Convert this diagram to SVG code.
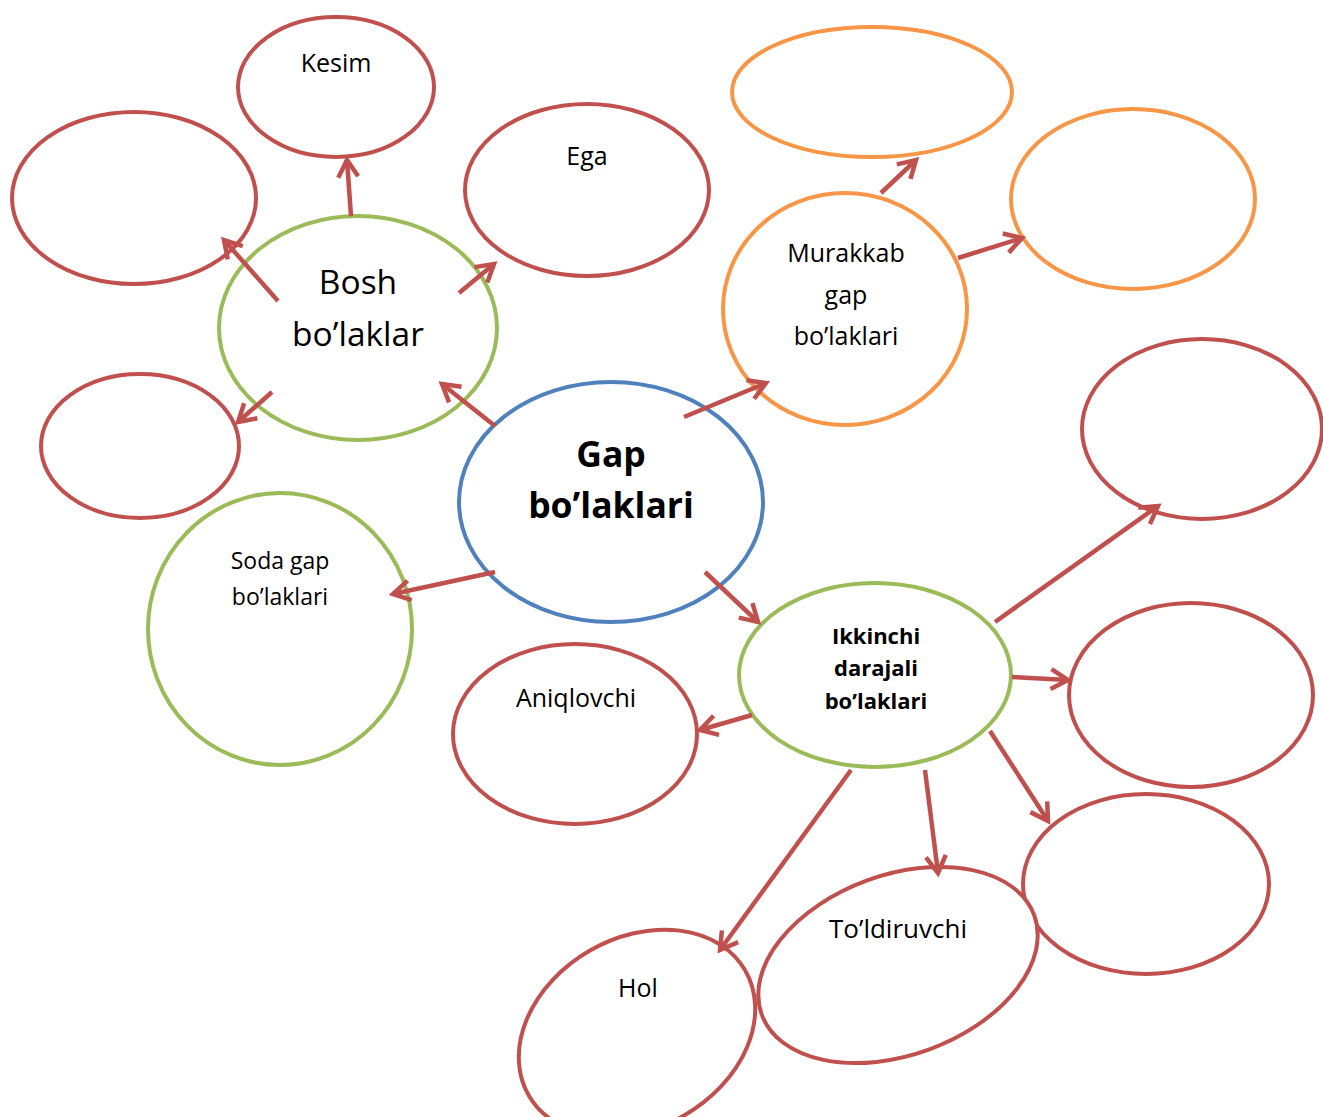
<svg xmlns="http://www.w3.org/2000/svg" width="1323" height="1117" viewBox="0 0 1323 1117">
<defs>
<marker id="ah" markerUnits="userSpaceOnUse" viewBox="-22 -14 26 28" refX="0" refY="0" markerWidth="26" markerHeight="28" orient="auto" overflow="visible">
<path d="M-17,-10 L0,0 L-17,10" fill="none" stroke="#C0504D" stroke-width="4.5" stroke-linecap="butt" stroke-linejoin="miter"/>
</marker>
</defs>
<style>
.n{fill:#fff;stroke-width:4}
.r{stroke:#C0504D}.g{stroke:#9BBB59}.b{stroke:#4F81BD}.o{stroke:#F79646}
text{font-family:"Open Sans",Lato,"Liberation Sans",sans-serif;fill:#000;text-anchor:middle}
.c line{stroke:#C0504D;stroke-width:4.5;marker-end:url(#ah)}
</style>
<rect width="1323" height="1117" fill="#fff"/>
<g id="kesim"><ellipse class="n r" cx="336" cy="87" rx="98" ry="70"/><text x="336" y="72" font-size="25">Kesim</text></g>
<g id="topleft"><ellipse class="n r" cx="134" cy="198" rx="122" ry="86"/></g>
<g id="ega"><ellipse class="n r" cx="587" cy="190" rx="122" ry="86"/><text x="587" y="165" font-size="25">Ega</text></g>
<g id="leftsmall"><ellipse class="n r" cx="140" cy="446" rx="99" ry="72"/></g>
<g id="bosh"><ellipse class="n g" cx="358" cy="328" rx="139" ry="112"/><text x="358" y="294" font-size="33.5">Bosh</text><text x="358" y="346" font-size="33.5">bo’laklar</text></g>
<g id="soda"><ellipse class="n g" cx="280" cy="629" rx="132" ry="136"/><text x="280" y="569" font-size="23">Soda gap</text><text x="280" y="605" font-size="23">bo’laklari</text></g>
<g id="toporange"><ellipse class="n o" cx="872" cy="92" rx="140" ry="65"/></g>
<g id="rightorange"><ellipse class="n o" cx="1133" cy="199" rx="122" ry="90"/></g>
<g id="murakkab"><ellipse class="n o" cx="845" cy="309" rx="122" ry="116"/><text x="846" y="262" font-size="25">Murakkab</text><text x="846" y="304" font-size="25">gap</text><text x="846" y="345" font-size="25">bo’laklari</text></g>
<g id="gap"><ellipse class="n b" cx="611" cy="502" rx="152" ry="120"/><text x="611" y="467" font-size="35.5" font-weight="bold">Gap</text><text x="611" y="518" font-size="35.5" font-weight="bold">bo’laklari</text></g>
<g id="righttop"><ellipse class="n r" cx="1202" cy="429" rx="120" ry="90"/></g>
<g id="rightmid"><ellipse class="n r" cx="1191" cy="695" rx="122" ry="92"/></g>
<g id="aniqlovchi"><ellipse class="n r" cx="575" cy="734" rx="122" ry="90"/><text x="576" y="707" font-size="25">Aniqlovchi</text></g>
<g id="ikkinchi"><ellipse class="n g" cx="875" cy="675" rx="136" ry="92"/><text x="876" y="644" font-size="22" font-weight="bold">Ikkinchi</text><text x="876" y="676" font-size="22" font-weight="bold">darajali</text><text x="876" y="709" font-size="22" font-weight="bold">bo’laklari</text></g>
<g id="bottomright"><ellipse class="n r" cx="1146" cy="884" rx="123" ry="90"/></g>
<g id="toldiruvchi"><ellipse class="n r" cx="898" cy="965" rx="145" ry="90" transform="rotate(-20 898 965)"/><text x="898" y="938" font-size="26">To’ldiruvchi</text></g>
<g id="hol"><ellipse class="n r" cx="637" cy="1033" rx="125" ry="95" transform="rotate(-30 637 1033)"/><text x="638" y="997" font-size="25">Hol</text></g>
<g id="connectors" class="c">
<line x1="351" y1="216" x2="347" y2="160"/>
<line x1="278" y1="301" x2="224" y2="240"/>
<line x1="459" y1="293" x2="494" y2="264"/>
<line x1="272" y1="392" x2="238" y2="422"/>
<line x1="495" y1="426" x2="442" y2="384"/>
<line x1="684" y1="417" x2="766" y2="383"/>
<line x1="495" y1="572" x2="393" y2="594"/>
<line x1="705" y1="572" x2="758" y2="622"/>
<line x1="881" y1="193" x2="916" y2="160"/>
<line x1="958" y1="258" x2="1022" y2="238"/>
<line x1="995" y1="622" x2="1158" y2="506"/>
<line x1="1012" y1="677" x2="1068" y2="680"/>
<line x1="752" y1="715" x2="700" y2="730"/>
<line x1="990" y1="731" x2="1048" y2="821"/>
<line x1="925" y1="770" x2="938" y2="873"/>
<line x1="851" y1="770" x2="720" y2="950"/>
</g>
</svg>
